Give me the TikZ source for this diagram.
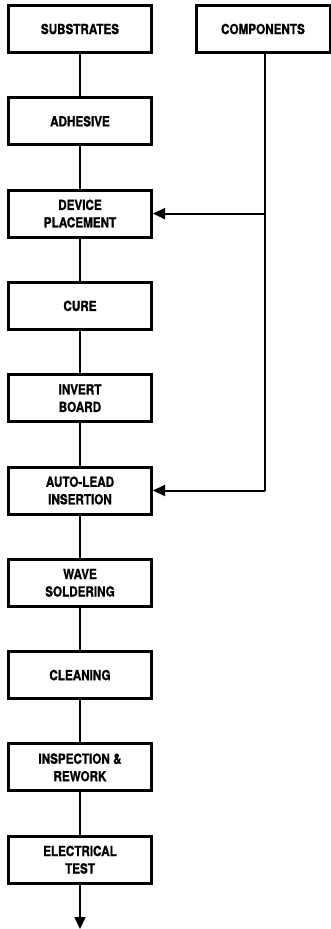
\documentclass[tikz,border=0pt]{standalone}
\usepackage{fontspec}
\setsansfont{TeX Gyre Heros}[FakeStretch=0.84,BoldFeatures={FakeBold=1.2}]
\usetikzlibrary{arrows.meta}
\begin{document}
\begin{tikzpicture}[x=1pt,y=-1pt,
  box/.style={draw,line width=3pt,minimum width=143pt,minimum height=47pt,align=center,
    font=\sffamily\bfseries\fontsize{13.9}{17.5}\selectfont,inner sep=0pt},
  conn/.style={line width=2pt},
  arr/.style={line width=2pt,-{Triangle[length=12pt,width=11pt]}}]
\useasboundingbox (0,0) rectangle (331,929);
\node[box] (sub) at (80,29) {SUBSTRATES};
\node[box,minimum width=134pt] (comp) at (263,29) {COMPONENTS};
\node[box] (adh) at (80,121.3) {ADHESIVE};
\node[box] (dev) at (80,213.6) {DEVICE\\PLACEMENT};
\node[box] (cure) at (80,305.9) {CURE};
\node[box] (inv) at (80,398.2) {INVERT\\BOARD};
\node[box] (auto) at (80,490.5) {AUTO-LEAD\\INSERTION};
\node[box] (wave) at (80,582.8) {WAVE\\SOLDERING};
\node[box] (clean) at (80,675.1) {CLEANING};
\node[box] (insp) at (80,767.4) {INSPECTION \&\\REWORK};
\node[box] (elec) at (80,859.7) {ELECTRICAL\\TEST};
\coordinate (end) at (80,929);
\coordinate (c1) at (265,213.6);
\coordinate (c2) at (265,490.5);
\draw[conn] (sub) -- (adh);
\draw[conn] (adh) -- (dev);
\draw[conn] (dev) -- (cure);
\draw[conn] (cure) -- (inv);
\draw[conn] (inv) -- (auto);
\draw[conn] (auto) -- (wave);
\draw[conn] (wave) -- (clean);
\draw[conn] (clean) -- (insp);
\draw[conn] (insp) -- (elec);
\draw[arr] (elec) -- (end);
\draw[conn] (comp.south -| c1) -- (c2);
\draw[arr] (c1) -- (dev.east);
\draw[arr] (c2) -- (auto.east);
\end{tikzpicture}
\end{document}
